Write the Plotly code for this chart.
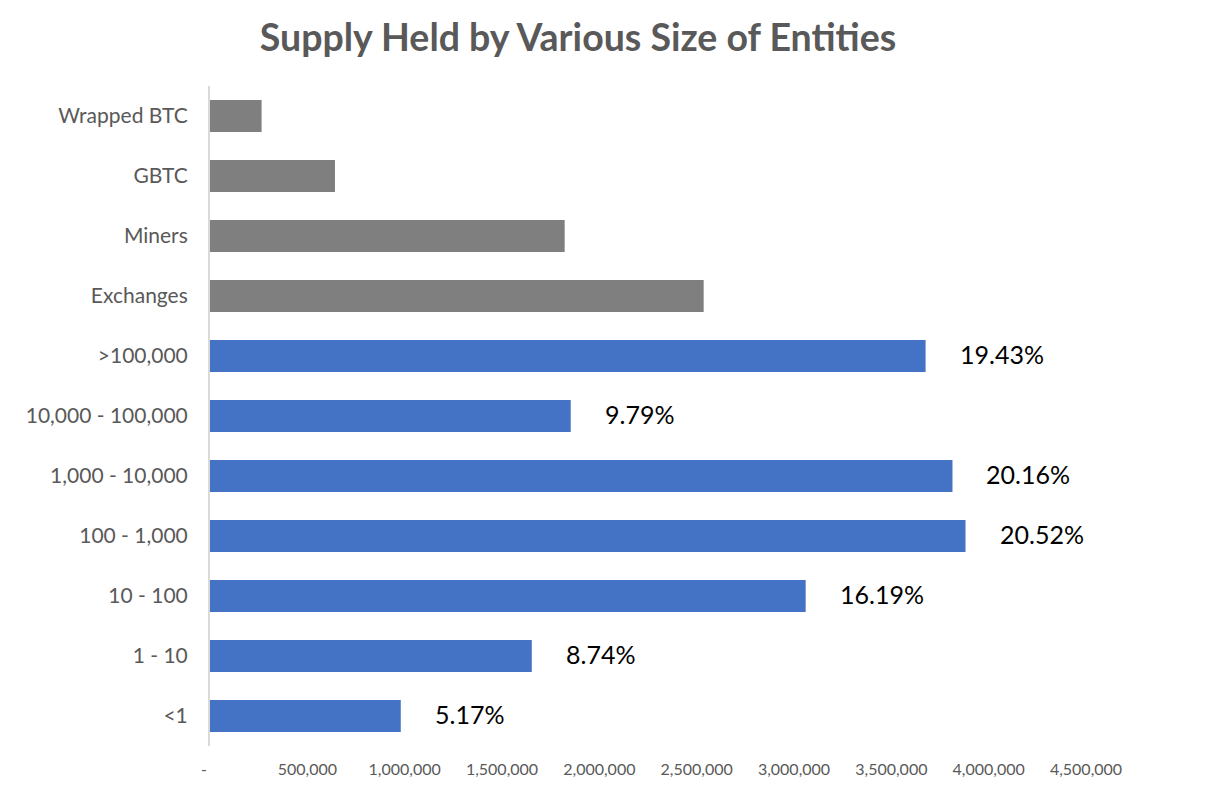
import plotly.graph_objects as go

categories = ["Wrapped BTC", "GBTC", "Miners", "Exchanges", ">100,000",
              "10,000 - 100,000", "1,000 - 10,000", "100 - 1,000", "10 - 100",
              "1 - 10", "<1"]
supply = [265000, 642000, 1822000, 2536000, 3676000,
          1853000, 3814000, 3881000, 3060000, 1653000, 980000]
pct_labels = ["", "", "", "", "19.43%", "9.79%", "20.16%", "20.52%",
              "16.19%", "8.74%", "5.17%"]
bar_colors = ["#7f7f7f"] * 4 + ["#4472c4"] * 7
tick_vals = [0, 500000, 1000000, 1500000, 2000000, 2500000, 3000000,
             3500000, 4000000, 4500000]
tick_text = ["-&nbsp;&nbsp;&nbsp;", "500,000", "1,000,000", "1,500,000", "2,000,000",
             "2,500,000", "3,000,000", "3,500,000", "4,000,000", "4,500,000"]

FONT = "Lato"

fig = go.Figure()
fig.add_trace(go.Bar(
    x=supply, y=categories, orientation="h",
    marker=dict(color=bar_colors, line=dict(width=0)),
    width=0.53, hoverinfo="x+y",
))

for c, v, t in zip(categories, supply, pct_labels):
    if t:
        fig.add_annotation(x=v, y=c, text=t, showarrow=False,
                           xanchor="left", yanchor="middle", xshift=32, yshift=2,
                           font=dict(family=FONT, size=25, color="#000000"))

fig.update_layout(
    width=1198, height=800,
    margin=dict(l=202, r=120, t=78, b=62),
    paper_bgcolor="white", plot_bgcolor="white",
    showlegend=False,
    title=dict(text="<b>Supply Held by Various Size of Entities</b>",
               x=(578 - 210) / 876, xref="paper", xanchor="center",
               y=1 - 30 / 800, yref="container", yanchor="middle",
               font=dict(family=FONT, size=37.5, color="#595959")),
    xaxis=dict(range=[0, 4500000], tickvals=tick_vals, ticktext=tick_text,
               showgrid=False, zeroline=False, showline=False,
               ticks="", ticklabelstandoff=12,
               tickfont=dict(family=FONT, size=16, color="#595959")),
    yaxis=dict(categoryorder="array", categoryarray=categories,
               autorange="reversed", showgrid=False, zeroline=False,
               showline=True, linecolor="#d9d9d9", linewidth=2,
               ticks="", ticklabelstandoff=16,
               tickfont=dict(family=FONT, size=21, color="#595959")),
)

fig.write_html("out.html")
